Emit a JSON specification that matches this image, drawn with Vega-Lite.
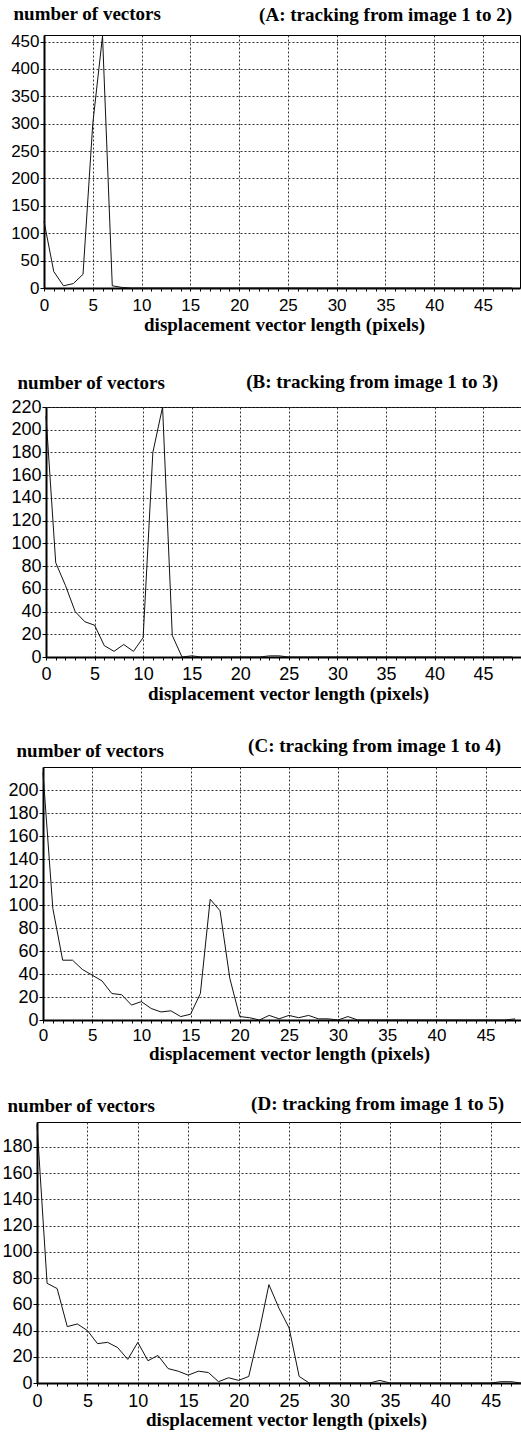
{
  "$schema": "https://vega.github.io/schema/vega-lite/v6.json",
  "background": "white",
  "padding": {"left": 0, "top": 3, "right": 0, "bottom": 0},
  "columns": 1,
  "bounds": "full",
  "spacing": 0,
  "datasets": {
    "A": [
      {"x":0,"n":122},{"x":1,"n":30},{"x":2,"n":4},{"x":3,"n":8},{"x":4,"n":25},{"x":5,"n":300},{"x":6,"n":460},{"x":7,"n":4},{"x":8,"n":1},{"x":9,"n":0},
      {"x":10,"n":0},{"x":11,"n":0},{"x":12,"n":0},{"x":13,"n":0},{"x":14,"n":0},{"x":15,"n":0},{"x":16,"n":0},{"x":17,"n":0},{"x":18,"n":0},{"x":19,"n":0},
      {"x":20,"n":0},{"x":21,"n":0},{"x":22,"n":0},{"x":23,"n":0},{"x":24,"n":0},{"x":25,"n":0},{"x":26,"n":0},{"x":27,"n":0},{"x":28,"n":0},{"x":29,"n":0},
      {"x":30,"n":0},{"x":31,"n":0},{"x":32,"n":0},{"x":33,"n":0},{"x":34,"n":0},{"x":35,"n":0},{"x":36,"n":0},{"x":37,"n":0},{"x":38,"n":0},{"x":39,"n":0},
      {"x":40,"n":0},{"x":41,"n":0},{"x":42,"n":0},{"x":43,"n":0},{"x":44,"n":0},{"x":45,"n":0},{"x":46,"n":0},{"x":47,"n":0},{"x":48,"n":0}
    ],
    "B": [
      {"x":0,"n":212},{"x":1,"n":83},{"x":2,"n":63},{"x":3,"n":40},{"x":4,"n":31},{"x":5,"n":28},{"x":6,"n":10},{"x":7,"n":5},{"x":8,"n":11},{"x":9,"n":5},
      {"x":10,"n":17},{"x":11,"n":180},{"x":12,"n":220},{"x":13,"n":19},{"x":14,"n":0},{"x":15,"n":1},{"x":16,"n":0},{"x":17,"n":0},{"x":18,"n":0},{"x":19,"n":0},
      {"x":20,"n":0},{"x":21,"n":0},{"x":22,"n":0},{"x":23,"n":1},{"x":24,"n":1},{"x":25,"n":0},{"x":26,"n":0},{"x":27,"n":0},{"x":28,"n":0},{"x":29,"n":0},
      {"x":30,"n":0},{"x":31,"n":0},{"x":32,"n":0},{"x":33,"n":0},{"x":34,"n":0},{"x":35,"n":0},{"x":36,"n":0},{"x":37,"n":0},{"x":38,"n":0},{"x":39,"n":0},
      {"x":40,"n":0},{"x":41,"n":0},{"x":42,"n":0},{"x":43,"n":0},{"x":44,"n":0},{"x":45,"n":0},{"x":46,"n":0},{"x":47,"n":0},{"x":48,"n":0}
    ],
    "C": [
      {"x":0,"n":215},{"x":1,"n":97},{"x":2,"n":52},{"x":3,"n":52},{"x":4,"n":44},{"x":5,"n":39},{"x":6,"n":34},{"x":7,"n":23},{"x":8,"n":22},{"x":9,"n":13},
      {"x":10,"n":16},{"x":11,"n":10},{"x":12,"n":7},{"x":13,"n":8},{"x":14,"n":3},{"x":15,"n":5},{"x":16,"n":23},{"x":17,"n":105},{"x":18,"n":95},{"x":19,"n":36},
      {"x":20,"n":3},{"x":21,"n":2},{"x":22,"n":0},{"x":23,"n":4},{"x":24,"n":1},{"x":25,"n":4},{"x":26,"n":2},{"x":27,"n":4},{"x":28,"n":1},{"x":29,"n":1},
      {"x":30,"n":0},{"x":31,"n":3},{"x":32,"n":0},{"x":33,"n":0},{"x":34,"n":0},{"x":35,"n":0},{"x":36,"n":0},{"x":37,"n":0},{"x":38,"n":0},{"x":39,"n":0},
      {"x":40,"n":0},{"x":41,"n":0},{"x":42,"n":0},{"x":43,"n":0},{"x":44,"n":0},{"x":45,"n":0},{"x":46,"n":0},{"x":47,"n":0},{"x":48,"n":1}
    ],
    "D": [
      {"x":0,"n":197},{"x":1,"n":76},{"x":2,"n":72},{"x":3,"n":43},{"x":4,"n":45},{"x":5,"n":40},{"x":6,"n":30},{"x":7,"n":31},{"x":8,"n":27},{"x":9,"n":18},
      {"x":10,"n":31},{"x":11,"n":17},{"x":12,"n":21},{"x":13,"n":11},{"x":14,"n":9},{"x":15,"n":6},{"x":16,"n":9},{"x":17,"n":8},{"x":18,"n":1},{"x":19,"n":4},
      {"x":20,"n":2},{"x":21,"n":5},{"x":22,"n":38},{"x":23,"n":75},{"x":24,"n":57},{"x":25,"n":42},{"x":26,"n":5},{"x":27,"n":0},{"x":28,"n":0},{"x":29,"n":0},
      {"x":30,"n":0},{"x":31,"n":0},{"x":32,"n":0},{"x":33,"n":0},{"x":34,"n":2},{"x":35,"n":0},{"x":36,"n":0},{"x":37,"n":0},{"x":38,"n":0},{"x":39,"n":0},
      {"x":40,"n":0},{"x":41,"n":0},{"x":42,"n":0},{"x":43,"n":0},{"x":44,"n":0},{"x":45,"n":0},{"x":46,"n":1},{"x":47,"n":1},{"x":48,"n":0}
    ]
  },
  "concat": [
    {
      "hconcat": [
        {"width": 9, "height": 1, "view": {"stroke": null}, "data": {"values": []}, "mark": "text", "encoding": {}},
        {
          "width": 476, "height": 253,
          "title": {"text": "(A: tracking from image 1 to 2)", "offset": -21, "dx": -8},
          "data": {"name": "A"},
          "mark": {"type": "line", "color": "#111", "strokeWidth": 1},
          "encoding": {
            "x": {"field": "x", "type": "quantitative", "scale": {"domain": [0, 48.8], "nice": false, "zero": false},
              "axis": {"values": [0,1,2,3,4,5,6,7,8,9,10,11,12,13,14,15,16,17,18,19,20,21,22,23,24,25,26,27,28,29,30,31,32,33,34,35,36,37,38,39,40,41,42,43,44,45,46,47,48],
                "labelExpr": "datum.value % 5 === 0 ? datum.label : ''",
                "gridOpacity": {"condition": {"test": "datum.value % 5 === 0", "value": 1}, "value": 0},
                "tickSize": 3, "labelFontSize": 17, "labelBaseline": "alphabetic", "labelPadding": 19, "labelFlush": false, "labelOverlap": false,
                "title": "displacement vector length (pixels)", "titleX": 240, "titleY": 42, "titleBaseline": "alphabetic", "titleAlign": "center", "minExtent": 83}},
            "y": {"field": "n", "type": "quantitative", "scale": {"domain": [0, 462], "nice": false},
              "axis": {"values": [0,50,100,150,200,250,300,350,400,450], "labelFontSize": 17, "tickSize": 4, "labelPadding": 1, "labelOverlap": false,
                "title": "number of vectors", "titleAngle": 0, "titleAlign": "left", "titleBaseline": "alphabetic", "titleX": -31, "titleY": -16, "minExtent": 34}}
          }
        }
      ],
      "spacing": 0, "bounds": "full"
    },
    {
      "hconcat": [
        {"width": 10, "height": 1, "view": {"stroke": null}, "data": {"values": []}, "mark": "text", "encoding": {}},
        {
          "width": 475, "height": 250,
          "title": {"text": "(B: tracking from image 1 to 3)", "offset": -19.4, "dx": -23},
          "data": {"name": "B"},
          "mark": {"type": "line", "color": "#111", "strokeWidth": 1},
          "encoding": {
            "x": {"field": "x", "type": "quantitative", "scale": {"domain": [0, 48.9], "nice": false, "zero": false},
              "axis": {"values": [0,1,2,3,4,5,6,7,8,9,10,11,12,13,14,15,16,17,18,19,20,21,22,23,24,25,26,27,28,29,30,31,32,33,34,35,36,37,38,39,40,41,42,43,44,45,46,47,48],
                "labelExpr": "datum.value % 5 === 0 ? datum.label : ''",
                "gridOpacity": {"condition": {"test": "datum.value % 5 === 0", "value": 1}, "value": 0},
                "tickSize": 3, "labelFontSize": 18, "labelBaseline": "alphabetic", "labelPadding": 19, "labelFlush": false, "labelOverlap": false,
                "title": "displacement vector length (pixels)", "titleX": 242, "titleY": 42, "titleBaseline": "alphabetic", "titleAlign": "center", "minExtent": 78}},
            "y": {"field": "n", "type": "quantitative", "scale": {"domain": [0, 220], "nice": false},
              "axis": {"values": [0,20,40,60,80,100,120,140,160,180,200,220], "labelFontSize": 18, "tickSize": 4, "labelPadding": 1, "labelOverlap": false,
                "title": "number of vectors", "titleAngle": 0, "titleAlign": "left", "titleBaseline": "alphabetic", "titleX": -29, "titleY": -19, "minExtent": 34}}
          }
        }
      ],
      "spacing": 0, "bounds": "full"
    },
    {
      "hconcat": [
        {"width": 7, "height": 1, "view": {"stroke": null}, "data": {"values": []}, "mark": "text", "encoding": {}},
        {
          "width": 478, "height": 253,
          "title": {"text": "(C: tracking from image 1 to 4)", "offset": -15, "dx": -20},
          "data": {"name": "C"},
          "mark": {"type": "line", "color": "#111", "strokeWidth": 1},
          "encoding": {
            "x": {"field": "x", "type": "quantitative", "scale": {"domain": [0, 48.6], "nice": false, "zero": false},
              "axis": {"values": [0,1,2,3,4,5,6,7,8,9,10,11,12,13,14,15,16,17,18,19,20,21,22,23,24,25,26,27,28,29,30,31,32,33,34,35,36,37,38,39,40,41,42,43,44,45,46,47,48],
                "labelExpr": "datum.value % 5 === 0 ? datum.label : ''",
                "gridOpacity": {"condition": {"test": "datum.value % 5 === 0", "value": 1}, "value": 0},
                "tickSize": 3, "labelFontSize": 17, "labelBaseline": "alphabetic", "labelPadding": 17, "labelFlush": false, "labelOverlap": false,
                "title": "displacement vector length (pixels)", "titleX": 246, "titleY": 39, "titleBaseline": "alphabetic", "titleAlign": "center", "minExtent": 73}},
            "y": {"field": "n", "type": "quantitative", "scale": {"domain": [0, 220], "nice": false},
              "axis": {"values": [0,20,40,60,80,100,120,140,160,180,200], "labelFontSize": 18, "tickSize": 4, "labelPadding": 1, "labelOverlap": false,
                "title": "number of vectors", "titleAngle": 0, "titleAlign": "left", "titleBaseline": "alphabetic", "titleX": -27, "titleY": -11, "minExtent": 34}}
          }
        }
      ],
      "spacing": 0, "bounds": "full"
    },
    {
      "hconcat": [
        {"width": 1, "height": 1, "view": {"stroke": null}, "data": {"values": []}, "mark": "text", "encoding": {}},
        {
          "width": 484, "height": 261,
          "title": {"text": "(D: tracking from image 1 to 5)", "offset": -18, "dx": -17},
          "data": {"name": "D"},
          "mark": {"type": "line", "color": "#111", "strokeWidth": 1},
          "encoding": {
            "x": {"field": "x", "type": "quantitative", "scale": {"domain": [0, 48], "nice": false, "zero": false},
              "axis": {"values": [0,1,2,3,4,5,6,7,8,9,10,11,12,13,14,15,16,17,18,19,20,21,22,23,24,25,26,27,28,29,30,31,32,33,34,35,36,37,38,39,40,41,42,43,44,45,46,47,48],
                "labelExpr": "datum.value % 5 === 0 ? datum.label : ''",
                "gridOpacity": {"condition": {"test": "datum.value % 5 === 0", "value": 1}, "value": 0},
                "tickSize": 3, "labelFontSize": 18, "labelBaseline": "alphabetic", "labelPadding": 20, "labelFlush": false, "labelOverlap": false,
                "title": "displacement vector length (pixels)", "titleX": 249, "titleY": 42, "titleBaseline": "alphabetic", "titleAlign": "center"}},
            "y": {"field": "n", "type": "quantitative", "scale": {"domain": [0, 199], "nice": false},
              "axis": {"values": [0,20,40,60,80,100,120,140,160,180], "labelFontSize": 18, "tickSize": 4, "labelPadding": 1, "labelOverlap": false,
                "title": "number of vectors", "titleAngle": 0, "titleAlign": "left", "titleBaseline": "alphabetic", "titleX": -30, "titleY": -11, "minExtent": 34}}
          }
        }
      ],
      "spacing": 0, "bounds": "full"
    }
  ],
  "config": {
    "view": {"stroke": "black", "strokeWidth": 1},
    "axis": {"domainColor": "black", "domainWidth": 2, "grid": true, "gridColor": "#333", "gridDash": [2, 2], "gridWidth": 1,
      "tickColor": "black", "tickWidth": 1, "labelFont": "Liberation Sans", "labelColor": "black",
      "titleFont": "Liberation Serif", "titleFontWeight": "bold", "titleFontSize": 19, "titleColor": "black"},
    "title": {"font": "Liberation Serif", "fontWeight": "bold", "fontSize": 19, "color": "black", "anchor": "end", "frame": "group", "baseline": "alphabetic"}
  }
}
